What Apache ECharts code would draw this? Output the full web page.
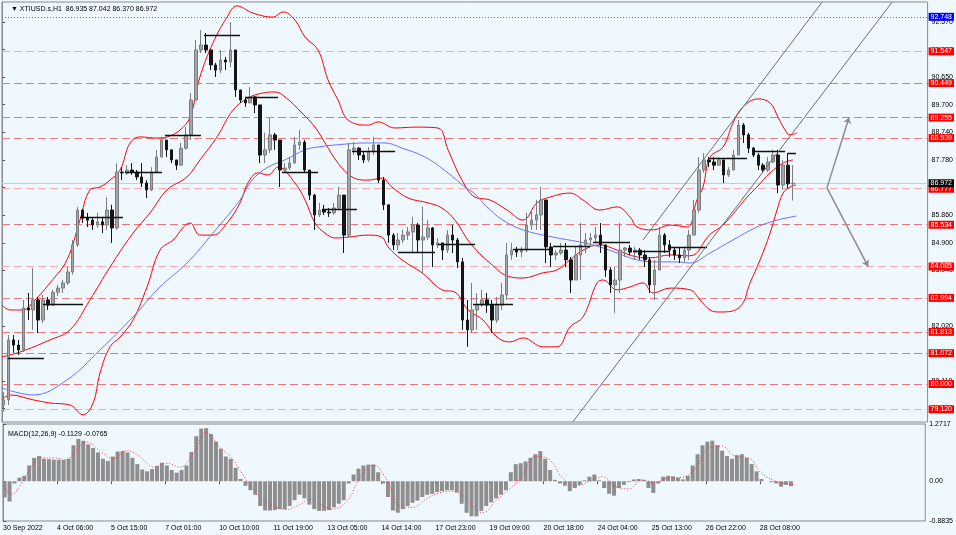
<!doctype html>
<html lang="en">
<head>
    <meta charset="UTF-8">
    <title>XTIUSD.s,H1</title>
    <style>
        html, body { margin: 0; padding: 0; background: #f0f8ff; }
        #main { width: 956px; height: 535px; }
    </style>
</head>
<body>
<div id="main"></div>
<script type="text/javascript" src="https://cdn.jsdelivr.net/npm/echarts@6/dist/echarts.min.js"></script>
<script type="text/javascript">
    // one candle every 3 hourly bars, x = bar number counted from 30 Sep
    const candleStep = 3;
    // [open, close, low, high]
    const ohlc = [
        [79.27,79.45,79.03,79.72],[79.45,81.53,79.27,81.70],[81.53,81.35,81.08,81.70],[81.35,81.18,81.01,81.53],
        [81.18,82.64,81.11,82.92],[82.64,82.57,82.22,83.16],[82.57,82.92,81.88,84.03],[82.92,82.22,81.77,83.02],
        [82.22,82.92,82.12,83.09],[82.92,82.74,82.57,83.02],[82.74,83.19,82.70,83.27],[83.19,83.33,83.05,83.44],
        [83.33,83.51,83.16,83.61],[83.51,83.89,83.44,84.06],[83.89,84.83,83.80,85.00],[84.83,86.04,84.76,86.15],
        [86.04,85.76,85.59,86.08],[85.76,85.69,85.45,85.94],[85.69,85.52,85.35,85.80],[85.52,85.63,85.42,85.94],
        [85.63,85.52,85.24,85.80],[85.52,86.04,85.35,86.49],[86.04,85.42,84.90,86.22],[85.42,87.36,85.35,87.67],
        [87.36,87.33,87.08,87.53],[87.33,87.43,87.26,87.60],[87.43,87.36,87.26,87.67],[87.36,87.19,87.08,87.43],
        [87.19,86.98,86.84,87.67],[86.98,86.74,86.46,87.08],[86.74,87.36,86.70,87.53],[87.36,87.88,87.33,88.13],
        [87.88,88.47,87.88,88.58],[88.47,88.13,87.88,88.47],[88.13,87.78,87.67,88.13],[87.78,87.60,87.43,87.78],
        [87.60,88.19,87.60,88.37],[88.19,88.65,88.13,88.92],[88.65,89.86,88.47,90.10],[89.86,91.60,89.86,91.95],
        [91.60,91.77,91.49,92.29],[91.77,91.60,91.49,92.19],[91.60,91.08,90.90,91.60],[91.08,90.90,90.66,91.15],
        [90.90,91.25,90.80,91.60],[91.25,91.18,90.90,91.36],[91.18,91.60,91.01,92.57],[91.60,90.21,89.97,91.60],
        [90.21,89.86,89.76,90.21],[89.86,89.76,89.62,89.97],[89.76,89.97,89.76,90.31],[89.97,89.69,89.41,90.00],
        [89.69,87.95,87.67,89.69],[87.95,88.13,87.67,88.72],[88.13,88.65,88.02,89.24],[88.65,88.47,88.13,88.72],
        [88.47,87.43,86.84,88.47],[87.43,87.50,87.33,87.67],[87.50,87.67,87.43,87.88],[87.67,88.30,87.67,88.58],
        [88.30,88.40,88.13,88.82],[88.40,87.43,87.33,88.47],[87.43,86.56,86.39,87.43],[86.56,85.87,85.35,86.60],
        [85.87,86.04,85.80,86.29],[86.04,85.97,85.87,86.22],[85.97,85.94,85.80,86.11],[85.94,86.11,85.87,86.29],
        [86.11,86.56,86.04,86.84],[86.56,85.17,84.55,86.56],[85.17,88.13,85.10,88.37],[88.13,88.19,87.95,88.40],
        [88.19,87.95,87.78,88.23],[87.95,87.78,87.67,88.06],[87.78,88.06,87.71,88.23],[88.06,88.30,87.95,88.58],
        [88.30,87.08,86.98,88.30],[87.08,86.22,86.04,87.19],[86.22,85.17,84.90,86.22],[85.17,84.83,84.65,85.24],
        [84.83,85.00,84.65,85.24],[85.00,85.17,84.90,85.35],[85.17,85.28,85.00,85.45],[85.28,85.52,84.55,85.80],
        [85.52,85.00,84.55,85.59],[85.00,85.10,83.86,86.15],[85.10,85.42,85.00,85.69],[85.42,84.83,84.06,85.45],
        [84.83,84.90,84.72,85.07],[84.90,84.65,84.31,84.90],[84.65,85.17,84.55,85.35],[85.17,85.00,84.55,85.52],
        [85.00,84.24,84.03,85.07],[84.24,82.22,81.88,84.38],[82.22,81.88,81.29,82.92],[81.88,82.57,81.77,83.51],
        [82.57,82.74,81.88,83.16],[82.74,82.92,82.68,83.27],[82.92,82.74,82.47,83.16],[82.74,82.22,81.77,82.92],
        [82.22,82.74,82.12,83.02],[82.74,83.09,82.57,83.51],[83.09,84.48,82.92,84.90],[84.48,84.65,84.31,84.90],
        [84.65,84.58,84.41,84.76],[84.58,84.65,84.41,84.76],[84.65,85.52,84.58,85.94],[85.52,85.69,85.35,86.04],
        [85.69,85.87,85.35,86.39],[85.87,86.39,85.35,86.84],[86.39,84.76,84.20,86.39],[84.76,84.48,84.06,84.90],
        [84.48,84.55,84.31,84.65],[84.55,84.65,84.48,84.90],[84.65,84.31,84.06,84.90],[84.31,83.61,83.16,84.41],
        [83.61,84.48,83.61,84.76],[84.48,84.83,83.61,85.59],[84.83,85.00,84.55,85.24],[85.00,85.07,84.76,85.24],
        [85.07,85.17,84.90,85.45],[85.17,84.83,84.55,85.59],[84.83,83.96,83.72,84.83],[83.96,83.44,83.16,84.06],
        [83.44,83.61,82.47,84.06],[83.61,84.65,83.16,85.59],[84.65,84.72,84.41,84.76],[84.72,84.58,84.48,84.83],
        [84.58,84.65,84.31,84.76],[84.65,84.48,84.31,84.72],[84.48,84.31,84.06,84.65],[84.31,83.44,83.16,84.41],
        [83.44,83.96,82.92,84.31],[83.96,85.17,83.96,85.45],[85.17,84.83,84.55,85.24],[84.83,84.65,84.41,85.00],
        [84.65,84.48,84.31,84.76],[84.48,84.38,84.20,84.76],[84.38,84.65,84.20,84.76],[84.65,85.17,84.31,85.35],
        [85.17,86.04,85.17,86.39],[86.04,87.43,85.94,87.88],[87.43,87.78,87.33,88.02],[87.78,87.71,87.53,87.88],
        [87.71,87.60,87.43,87.88],[87.60,87.78,87.60,87.88],[87.78,87.26,86.98,87.78],[87.26,87.43,87.19,87.53],
        [87.43,87.95,87.43,88.13],[87.95,88.99,87.95,89.17],[88.99,88.65,88.37,89.06],[88.65,88.19,88.02,88.72],
        [88.19,87.95,87.88,88.23],[87.95,87.60,87.43,88.02],[87.60,87.43,87.33,87.67],[87.43,87.71,87.36,87.88],
        [87.71,87.95,87.67,88.13],[87.95,86.91,86.63,88.13],[86.91,87.60,86.74,87.78],[87.60,86.95,86.81,88.02],
        [86.95,86.97,86.37,87.60]
    ];
    // MACD main line, one value per candle
    const macdHist = [
        -0.36,-0.45,-0.05,0.08,0.12,0.35,0.52,0.56,0.50,0.49,
        0.48,0.48,0.47,0.50,0.80,0.94,0.90,0.82,0.74,0.64,
        0.50,0.45,0.55,0.66,0.67,0.64,0.52,0.38,0.26,0.22,
        0.27,0.34,0.41,0.35,0.25,0.19,0.25,0.35,0.65,1.00,
        1.17,1.18,1.05,0.88,0.72,0.55,0.50,0.30,0.05,-0.10,
        -0.20,-0.30,-0.55,-0.65,-0.65,-0.64,-0.62,-0.62,-0.55,-0.42,
        -0.30,-0.38,-0.52,-0.62,-0.66,-0.66,-0.64,-0.58,-0.50,-0.42,
        -0.05,0.15,0.28,0.35,0.37,0.37,0.20,-0.05,-0.35,-0.65,
        -0.70,-0.62,-0.55,-0.48,-0.43,-0.35,-0.30,-0.28,-0.24,-0.22,
        -0.20,-0.20,-0.25,-0.50,-0.70,-0.78,-0.78,-0.66,-0.55,-0.47,
        -0.38,-0.30,-0.20,0.20,0.38,0.40,0.44,0.52,0.60,0.67,
        0.50,0.25,0.03,-0.05,-0.10,-0.22,-0.15,-0.08,0.02,0.10,
        0.15,0.02,-0.15,-0.28,-0.32,-0.15,-0.08,-0.02,0.04,0.05,
        0.03,-0.15,-0.26,-0.05,0.10,0.12,0.11,0.08,0.04,0.12,
        0.35,0.60,0.80,0.88,0.90,0.80,0.68,0.56,0.50,0.58,
        0.60,0.52,0.38,0.22,0.05,0.00,-0.02,-0.05,-0.12,-0.08,
        -0.11
    ];
    // MACD signal, [bar, value]
    const macdSignal = [
        [0,-0.03],[5,-0.29],[11,-0.07],[17,0.31],[23,0.52],[31,0.52],[39,0.48],[43,0.61],[51,0.87],[60,0.65],
        [67,0.50],[76,0.68],[84,0.53],[92,0.31],[100,0.40],[108,0.31],[116,0.61],[124,1.09],[132,0.76],[140,0.50],
        [149,0.0],[157,-0.37],[165,-0.55],[173,-0.63],[181,-0.52],[187,-0.40],[193,-0.50],[201,-0.62],[210,-0.44],
        [218,0.08],[226,0.36],[234,0.05],[242,-0.55],[250,-0.58],[258,-0.40],[266,-0.26],[274,-0.22],[282,-0.35],
        [288,-0.60],[293,-0.70],[301,-0.42],[309,-0.18],[317,0.12],[325,0.55],[333,0.50],[341,0.10],[350,-0.10],
        [358,0.0],[366,0.10],[374,-0.12],[382,-0.17],[390,0.03],[398,-0.03],[406,0.07],[414,0.08],[423,0.30],
        [431,0.75],[439,0.78],[447,0.55],[455,0.52],[463,0.18],[471,0.01],[479,-0.06],[483,-0.0765]
    ];
    // Bollinger bands and moving average, [bar, price]
    const bbUpper = [
        [0,82.74],[4.9,82.57],[12.8,82.57],[18.9,82.85],[29.2,83.51],[39.5,84.31],[47.4,85.69],[53.5,86.74],
        [59.6,86.84],[65.7,87.08],[71.8,87.43],[77.9,88.37],[83.9,88.58],[94.3,88.54],[100.4,88.58],[108.3,88.82],
        [114.4,89.27],[120.4,90.66],[128.3,91.84],[136.9,92.74],[142.9,93.13],[152.7,92.88],[164.8,92.74],
        [170.9,92.92],[178.2,92.64],[184.3,92.05],[192.2,91.60],[198.3,90.56],[204.4,89.86],[210.5,89.17],
        [222.6,88.99],[228.7,89.10],[239.1,88.89],[251.2,88.92],[265.2,88.89],[271.3,88.13],[279.8,87.08],
        [287.7,86.49],[296.8,86.39],[307.2,86.04],[316.9,85.69],[325.4,86.29],[333.3,86.49],[345.5,86.63],
        [353.4,86.39],[363.7,86.04],[374.1,86.15],[382,85.80],[386.3,85.45],[396,85.35],[406.3,85.52],
        [416.7,85.45],[422.7,86.39],[426.4,86.84],[430.7,87.88],[438.6,88.23],[444.6,89.06],[450.7,89.62],
        [459.9,89.90],[467.2,89.76],[472,89.27],[476.3,88.82],[479.3,88.65],[483.6,88.72]
    ];
    const bbMiddle = [
        [0,80.94],[10.9,81.11],[29.2,81.53],[41.4,81.88],[53.5,82.92],[65.7,84.06],[79.7,85.24],[90,85.94],
        [100.4,86.74],[112.5,87.19],[120.4,87.78],[130.8,88.58],[140.5,89.51],[149.6,89.93],[158.2,90.10],
        [166.1,90.14],[172.1,89.97],[182.5,89.41],[190.4,88.92],[196.5,88.37],[204.4,87.67],[212.9,87.19],
        [222.6,87.08],[231.1,87.15],[237.2,86.84],[247,86.46],[259.1,86.29],[267.6,86.11],[275.5,85.69],
        [284.7,84.90],[296.8,84.20],[309,83.72],[316.9,83.68],[329.1,83.86],[337.6,83.96],[345.5,84.31],
        [353.4,84.65],[363.7,84.83],[374.1,84.65],[386.3,84.41],[394.2,84.38],[406.3,84.48],[418.5,84.45],
        [430.7,85.20],[438.6,85.52],[453.2,86.49],[459.2,86.84],[467.2,87.33],[475.1,87.67],[481.1,87.78]
    ];
    const bbLower = [
        [0,79.45],[4.9,79.62],[18.9,79.45],[29.2,79.34],[41.4,79.27],[49.3,78.93],[55.4,79.34],[59.6,80.38],
        [65.7,81.29],[71.8,81.63],[79.7,82.22],[88.2,83.37],[96.1,84.65],[104,85.00],[114.4,85.59],[120.4,85.17],
        [128.3,85.17],[136.9,85.59],[144.8,86.29],[149.6,86.98],[155.7,87.33],[161.8,87.26],[167.9,87.53],
        [178.2,86.98],[184.3,86.39],[190.4,85.59],[196.5,85.24],[202.6,85.07],[210.5,85.10],[222.6,85.17],
        [231.1,85.10],[234.8,84.76],[243.3,84.31],[255.5,83.86],[267.6,83.27],[275.5,83.19],[283.5,82.57],
        [292.6,82.22],[301.1,81.63],[309,81.46],[316.9,81.60],[329.1,81.29],[337.6,81.29],[345.5,81.98],
        [353.4,82.33],[361.9,83.51],[365.6,83.61],[374.1,83.27],[382,83.37],[389.9,83.51],[396,83.16],
        [406.3,83.33],[418.5,83.27],[424.6,82.92],[430.7,82.57],[436.7,82.50],[448.9,82.68],[455,83.51],
        [461.1,84.31],[467.2,85.24],[471.4,86.04],[475.1,86.63],[479.3,86.84],[482.9,86.91]
    ];
    const maBlue = [
        [0,79.86],[18.9,79.62],[39.5,80.14],[59.6,81.18],[79.7,82.33],[96.1,83.37],[112.5,84.20],[128.3,85.24],
        [144.8,86.39],[152.1,87.08],[161.8,87.53],[172.1,87.78],[184.3,88.13],[192.2,88.23],[208.6,88.33],
        [222.6,88.37],[233,88.37],[243.3,88.19],[257.3,87.88],[271.3,87.33],[281.6,86.84],[287.7,86.60],
        [295,86.15],[304.7,85.69],[316.9,85.35],[335.2,85.10],[351.6,84.93],[363.7,84.76],[374.1,84.55],
        [386.3,84.31],[398.4,84.24],[410.6,84.24],[418.5,84.20],[430.7,84.55],[444.6,85.00],[459.2,85.45],
        [471.4,85.69],[483,85.83]
    ];
    // daily open segments [fromBar, toBar, price]
    const dayOpens = [
        [3.6,25.5,80.90],[24.9,49.3,82.78],[47.4,73.6,85.80],[74.8,97.3,87.36],[99.1,121,88.65],[122.9,144.8,92.12],
        [147.8,167.9,89.97],[170.3,192.2,87.36],[194.6,215.9,86.08],[212.9,239.1,88.09],[240.9,263.4,84.58],
        [265.2,287.7,84.86],[286.5,310.8,82.78],[310.8,333.3,84.69],[335.2,357.7,84.79],[359.5,382,84.93],
        [383.8,406.3,84.62],[406.3,428.8,84.76],[430.7,453.2,87.85],[456.8,476.3,88.09],[478.1,483,88.02]
    ];
    // rising channel, [[bar, price], [bar, price]]
    const channel = [
        [[389.9,85.00],[498.8,93.26]],
        [[347.3,78.69],[541.4,93.26]]
    ];
    const arrows = [
        [[501.8,86.81],[515.2,89.255]],
        [[501.8,86.81],[526.8,84.085]]
    ];
    const levelsLight = [91.547, 86.777, 84.085, 79.120];
    const levelsMid = [90.449, 89.255, 88.539, 85.534, 82.994, 81.813, 81.072, 80.000];
    const askLevel = 92.748;
    const bidLevel = 86.972;
    const priceTicks = [92.570, 91.610, 90.650, 89.700, 88.740, 87.780, 86.820, 85.860, 84.900, 83.940, 82.980, 82.020, 81.060, 80.110, 79.150];
    const macdTicks = [1.2717, 0, -0.8835];
    const macdTickText = ['1.2717', '0.00', '-0.8835'];
    const timeTickBars = [0, 33, 66, 99, 132, 165, 198, 231, 264, 297, 330, 363, 396, 429, 462];
    const timeTickText = ['30 Sep 2022', '4 Oct 06:00', '5 Oct 15:00', '7 Oct 01:00', '10 Oct 10:00', '11 Oct 19:00',
        '13 Oct 05:00', '14 Oct 14:00', '17 Oct 23:00', '19 Oct 09:00', '20 Oct 18:00', '24 Oct 04:00',
        '25 Oct 13:00', '26 Oct 22:00', '28 Oct 08:00'];

    const FONT = 'Liberation Sans';
    const lastBar = 563;

    function level(v, color, type, bg) {
        return {
            yAxis: v,
            lineStyle: {color: color, type: type, width: 1},
            label: {
                show: true, position: 'end', distance: 1, formatter: v.toFixed(3),
                color: '#fff', backgroundColor: bg, padding: [1, 2, 0, 2],
                fontSize: 7, fontFamily: FONT
            }
        };
    }

    let levelData = [];
    levelsMid.forEach(function (v) { levelData.push(level(v, '#ee7777', [8, 4], '#ff0000')); });
    levelsLight.forEach(function (v) { levelData.push(level(v, '#f5abab', [8, 4], '#ff0000')); });
    levelData.push(level(askLevel, '#6b6bff', [1, 2], '#0000ff'));
    levelData.push(level(bidLevel, '#c8cdd2', 'solid', '#000000'));

    const candleData = ohlc.map(function (d, k) {
        return [k * candleStep + 1, d[0], d[1], d[2], d[3]];
    });
    const histData = macdHist.map(function (v, k) {
        return [k * candleStep + 1, v];
    });

    const bandLine = function (data) {
        return {
            type: 'line', xAxisIndex: 0, yAxisIndex: 0, data: data, smooth: 0.4,
            showSymbol: false, silent: true, lineStyle: {color: '#ff0000', width: 1}, z: 3
        };
    };

    let myChart = echarts.init(document.getElementById('main'));
    let option = {
        backgroundColor: '#f0f8ff',
        animation: false,
        textStyle: {fontFamily: FONT},
        title: [
            {
                text: '\u25BC XTIUSD.s,H1  86.935 87.042 86.370 86.972', left: 6, top: 1,
                textStyle: {fontSize: 7, fontWeight: 'normal', color: '#000', fontFamily: FONT}
            },
            {
                text: 'MACD(12,26,9) -0.1129 -0.0765', left: 3, top: 426,
                textStyle: {fontSize: 7, fontWeight: 'normal', color: '#000', fontFamily: FONT}
            }
        ],
        grid: [
            {left: 2, right: 28, top: 2, height: 420, show: true, borderColor: '#8a8a8a', borderWidth: 1, backgroundColor: 'transparent'},
            {left: 2, right: 28, top: 424, height: 97, show: true, borderColor: '#8a8a8a', borderWidth: 1, backgroundColor: 'transparent'}
        ],
        xAxis: [
            {
                gridIndex: 0, type: 'value', min: 0, max: lastBar,
                axisLine: {show: false}, axisTick: {show: false}, axisLabel: {show: false}, splitLine: {show: false}
            },
            {
                gridIndex: 1, type: 'value', min: 0, max: lastBar,
                axisLine: {show: false}, splitLine: {show: false},
                axisTick: {show: true, length: 3, customValues: timeTickBars, lineStyle: {color: '#555'}},
                axisLabel: {
                    customValues: timeTickBars, align: 'left', margin: 4, fontSize: 7, color: '#000', fontFamily: FONT,
                    formatter: function (v) {
                        let i = timeTickBars.indexOf(Math.round(v));
                        return i >= 0 ? timeTickText[i] : '';
                    }
                }
            }
        ],
        yAxis: [
            {
                gridIndex: 0, type: 'value', position: 'right', min: 78.68, max: 93.265, scale: true,
                axisLine: {show: true, lineStyle: {color: '#8a8a8a'}}, splitLine: {show: false},
                axisTick: {show: true, length: 3, customValues: priceTicks, lineStyle: {color: '#555'}},
                axisLabel: {
                    customValues: priceTicks, margin: 4, fontSize: 7, color: '#000', fontFamily: FONT,
                    formatter: function (v) { return v.toFixed(3); }
                }
            },
            {
                gridIndex: 1, type: 'value', position: 'right', min: -0.8835, max: 1.2717,
                axisLine: {show: true, lineStyle: {color: '#8a8a8a'}}, splitLine: {show: false},
                axisTick: {show: true, length: 3, customValues: macdTicks, lineStyle: {color: '#555'}},
                axisLabel: {
                    customValues: macdTicks, margin: 4, fontSize: 7, color: '#000', fontFamily: FONT,
                    formatter: function (v) {
                        let i = macdTicks.indexOf(v);
                        return i >= 0 ? macdTickText[i] : '';
                    }
                }
            }
        ],
        series: [
            {
                type: 'candlestick', xAxisIndex: 0, yAxisIndex: 0, data: candleData,
                encode: {x: 0, y: [1, 2, 3, 4]}, barWidth: 3, silent: true, z: 4,
                itemStyle: {color: '#a6a6a6', borderColor: '#7c7c7c', color0: '#151515', borderColor0: '#151515', borderWidth: 1},
                markLine: {silent: true, symbol: ['none', 'none'], animation: false, data: levelData, z: 2}
            },
            bandLine(bbUpper),
            bandLine(bbMiddle),
            bandLine(bbLower),
            {
                type: 'line', xAxisIndex: 0, yAxisIndex: 0, data: maBlue, smooth: 0.4, showSymbol: false, silent: true,
                lineStyle: {color: '#7070ff', width: 1}, z: 3
            },
            {
                type: 'lines', coordinateSystem: 'cartesian2d', xAxisIndex: 0, yAxisIndex: 0, silent: true, z: 5,
                lineStyle: {color: '#111', width: 1.3, opacity: 1},
                data: dayOpens.map(function (d) { return {coords: [[d[0], d[2]], [d[1], d[2]]]}; })
            },
            {
                type: 'lines', coordinateSystem: 'cartesian2d', xAxisIndex: 0, yAxisIndex: 0, silent: true, z: 5,
                lineStyle: {color: '#6e6e6e', width: 1, opacity: 1},
                data: channel.map(function (c) { return {coords: c}; })
            },
            {
                type: 'lines', coordinateSystem: 'cartesian2d', xAxisIndex: 0, yAxisIndex: 0, silent: true, z: 5,
                symbol: ['none', 'arrow'], symbolSize: 6,
                lineStyle: {color: '#8c8c8c', width: 1.5, opacity: 1},
                data: arrows.map(function (c) { return {coords: c}; })
            },
            {
                type: 'bar', xAxisIndex: 1, yAxisIndex: 1, data: histData, barWidth: 4, silent: true,
                itemStyle: {color: '#8e8e8e'}
            },
            {
                type: 'line', xAxisIndex: 1, yAxisIndex: 1, data: macdSignal, smooth: 0.4, showSymbol: false, silent: true,
                lineStyle: {color: '#ff3030', width: 1, type: [1, 2]}, z: 4
            }
        ]
    };
    myChart.setOption(option);
</script>
</body>
</html>
